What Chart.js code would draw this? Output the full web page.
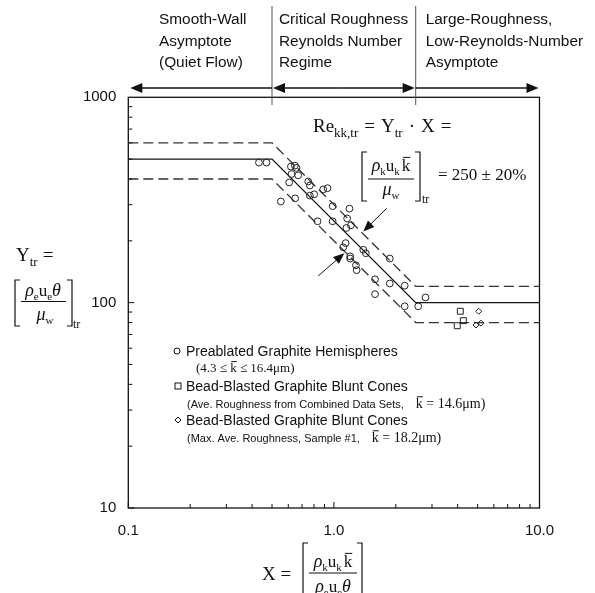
<!DOCTYPE html>
<html>
<head>
<meta charset="utf-8">
<script src="https://cdn.jsdelivr.net/npm/chart.js@4"></script>
<style>
  html, body { margin: 0; padding: 0; background: #fff; }
  canvas { display: block; }
</style>
</head>
<body>
<canvas id="c" width="595" height="593"></canvas>
<script>
// ---------- data ----------
const circleX = [0.432, 0.470, 0.618, 0.646, 0.658, 0.622, 0.670, 0.606, 0.552, 0.648,
                 0.750, 0.764, 0.764, 0.802, 0.887, 0.931, 0.986, 1.19, 0.833, 0.986,
                 1.16, 1.15, 1.21, 1.14, 1.11, 1.20, 1.20, 1.28, 1.29, 1.39,
                 1.43, 1.87, 1.585, 1.87, 2.21, 1.585, 2.21, 2.57, 2.79];
const circleY = [481, 481, 460, 465, 453, 423, 417, 385, 311, 322,
                 389, 372, 332, 337, 356, 361, 295, 287, 249, 249,
                 257, 231, 238, 195, 186, 168, 164, 152, 144, 181,
                 174, 164, 130, 124, 121, 110, 96, 96, 106];
const squareX = [4.12, 4.26, 3.98];
const squareY = [90.8, 81.7, 77.2];
const diamondX = [5.06, 5.19, 4.91];
const diamondY = [90.8, 79.5, 77.8];

// correlation Re_kk,tr = 250 +/- 20% with asymptotes
const bandX   = [0.1, 0.5, 2.5, 10];
const bandMid = [500, 500, 100, 100];
const bandHi  = [600, 600, 120, 120];
const bandLo  = [400, 400, 80, 80];
const regimeBounds = [0.5, 2.5];

const xTickVals = [0.1, 1, 10];
const xTickLabels = ['0.1', '1.0', '10.0'];
const yTickVals = [10, 100, 1000];
const yTickLabels = ['10', '100', '1000'];

// ---------- helpers ----------
const SANS = '"Liberation Sans", Arial, sans-serif';
const SERIF = '"Liberation Serif", "Times New Roman", serif';
const INK = '#111';
const pts = (xs, ys) => xs.map((x, i) => ({x, y: ys[i]}));
const fontOf = (p) => `${p.i ? 'italic ' : ''}${p.s}px ${p.f || SERIF}`;

function runWidth(ctx, parts) {
  let w = 0;
  parts.forEach(p => { ctx.font = fontOf(p); w += ctx.measureText(p.t).width + (p.g || 0); });
  return w;
}
function drawRun(ctx, x, y, parts, align) {
  let cx = align === 'center' ? x - runWidth(ctx, parts) / 2 : x;
  ctx.textAlign = 'left';
  ctx.textBaseline = 'alphabetic';
  parts.forEach(p => {
    ctx.font = fontOf(p);
    const yy = y + (p.d || 0);
    ctx.fillText(p.t, cx, yy);
    const w = ctx.measureText(p.t).width;
    if (p.bar) {
      ctx.beginPath(); ctx.lineWidth = 1;
      ctx.moveTo(cx + 1, yy - p.s * 0.8); ctx.lineTo(cx + w, yy - p.s * 0.8); ctx.stroke();
    }
    cx += w + (p.g || 0);
  });
}
function bracket(ctx, l, r, top, bot) {
  ctx.beginPath(); ctx.lineWidth = 1.2;
  ctx.moveTo(l + 5, top); ctx.lineTo(l, top); ctx.lineTo(l, bot); ctx.lineTo(l + 5, bot);
  ctx.moveTo(r - 5, top); ctx.lineTo(r, top); ctx.lineTo(r, bot); ctx.lineTo(r - 5, bot);
  ctx.stroke();
}
function arrow(ctx, x1, y1, x2, y2, len, half) {
  const a = Math.atan2(y2 - y1, x2 - x1);
  ctx.beginPath();
  ctx.moveTo(x1, y1); ctx.lineTo(x2 - Math.cos(a) * len * 0.8, y2 - Math.sin(a) * len * 0.8); ctx.stroke();
  ctx.beginPath();
  ctx.moveTo(x2, y2);
  ctx.lineTo(x2 - Math.cos(a) * len - Math.sin(a) * half, y2 - Math.sin(a) * len + Math.cos(a) * half);
  ctx.lineTo(x2 - Math.cos(a) * len + Math.sin(a) * half, y2 - Math.sin(a) * len - Math.cos(a) * half);
  ctx.closePath(); ctx.fill();
}

// numerator / denominator pieces
const rhoK_uK_k = [{t:'ρ', s:18, i:1}, {t:'k', s:11, d:4}, {t:'u', s:17}, {t:'k', s:11, d:4, g:2}, {t:'k', s:17, bar:1}];
const rhoE_uE_th = [{t:'ρ', s:18, i:1}, {t:'e', s:11, d:4}, {t:'u', s:17}, {t:'e', s:11, d:4}, {t:'θ', s:18, i:1}];
const mu_w = [{t:'μ', s:18, i:1}, {t:'w', s:11, d:4}];

// ---------- decorations ----------
const decor = {
  id: 'decor',
  afterDraw(chart) {
    const {ctx, chartArea: a, scales: {x, y}} = chart;
    ctx.save();
    ctx.strokeStyle = INK; ctx.fillStyle = INK;

    // frame
    ctx.lineWidth = 1.3;
    ctx.strokeRect(a.left, a.top, a.right - a.left, a.bottom - a.top);

    // inner minor ticks
    ctx.lineWidth = 1;
    ctx.beginPath();
    for (let d = 0.1; d < 10; d *= 10) {
      for (let m = 1; m <= 9; m++) {
        const px = x.getPixelForValue(m * d);
        const len = m === 1 ? 6 : 4;
        ctx.moveTo(px, a.bottom); ctx.lineTo(px, a.bottom - len);
      }
    }
    for (let d = 10; d < 1000; d *= 10) {
      for (let m = 1; m <= 9; m++) {
        const py = y.getPixelForValue(m * d);
        const len = m === 1 ? 6 : 4;
        ctx.moveTo(a.left, py); ctx.lineTo(a.left + len, py);
      }
    }
    ctx.stroke();

    // regime headers
    const b1 = x.getPixelForValue(regimeBounds[0]);
    const b2 = x.getPixelForValue(regimeBounds[1]);
    ctx.strokeStyle = '#555'; ctx.lineWidth = 1;
    ctx.beginPath();
    ctx.moveTo(b1, 6); ctx.lineTo(b1, 105);
    ctx.moveTo(b2, 6); ctx.lineTo(b2, 105);
    ctx.stroke();
    ctx.strokeStyle = INK; ctx.lineWidth = 1.5;
    const ay = 88;
    arrow(ctx, b1, ay, a.left + 2, ay, 12, 5);
    arrow(ctx, (b1 + b2) / 2, ay, b1 + 1, ay, 12, 5);
    arrow(ctx, (b1 + b2) / 2, ay, b2 - 1, ay, 12, 5);
    arrow(ctx, b2, ay, a.right - 1, ay, 12, 5);

    ctx.font = `15.4px ${SANS}`; ctx.textAlign = 'left'; ctx.textBaseline = 'middle';
    const heads = [
      [159, ['Smooth-Wall', 'Asymptote', '(Quiet Flow)']],
      [b1 + 7, ['Critical Roughness', 'Reynolds Number', 'Regime']],
      [b2 + 10, ['Large-Roughness,', 'Low-Reynolds-Number', 'Asymptote']]
    ];
    heads.forEach(([hx, lines]) => lines.forEach((t, i) => ctx.fillText(t, hx, 20 + i * 21.5)));

    // correlation formula
    ctx.lineWidth = 1;
    drawRun(ctx, 313, 132, [{t:'Re', s:19}, {t:'kk,tr', s:13, d:5, g:6}, {t:'=', s:19, g:6},
      {t:'Y', s:19}, {t:'tr', s:13, d:5, g:6}, {t:'·', s:19, g:6}, {t:'X', s:19, g:6}, {t:'=', s:19}]);
    bracket(ctx, 362, 420, 152, 201);
    drawRun(ctx, 391, 171, rhoK_uK_k, 'center');
    ctx.beginPath(); ctx.lineWidth = 1; ctx.moveTo(368, 179); ctx.lineTo(414, 179); ctx.stroke();
    drawRun(ctx, 391, 195, mu_w, 'center');
    drawRun(ctx, 422, 203, [{t:'tr', s:12}]);
    drawRun(ctx, 438, 180, [{t:'= 250 ± 20%', s:17}]);

    // pointers to the band
    ctx.lineWidth = 1;
    arrow(ctx, x.getPixelForValue(1.806), y.getPixelForValue(288), x.getPixelForValue(1.39), y.getPixelForValue(222), 11, 4.5);
    arrow(ctx, x.getPixelForValue(0.839), y.getPixelForValue(135), x.getPixelForValue(1.124), y.getPixelForValue(174), 11, 4.5);

    // y title
    drawRun(ctx, 16, 261, [{t:'Y', s:19}, {t:'tr', s:13, d:5, g:5}, {t:'=', s:19}]);
    bracket(ctx, 15, 72, 280, 326);
    drawRun(ctx, 43, 296, rhoE_uE_th, 'center');
    ctx.beginPath(); ctx.lineWidth = 1; ctx.moveTo(21, 301.5); ctx.lineTo(66, 301.5); ctx.stroke();
    drawRun(ctx, 45, 320, mu_w, 'center');
    drawRun(ctx, 73, 328, [{t:'tr', s:12}]);

    // x title
    drawRun(ctx, 262, 580, [{t:'X =', s:19}]);
    bracket(ctx, 303, 362, 543, 600);
    drawRun(ctx, 333, 567, rhoK_uK_k, 'center');
    ctx.beginPath(); ctx.lineWidth = 1; ctx.moveTo(309, 573); ctx.lineTo(357, 573); ctx.stroke();
    drawRun(ctx, 333, 592, rhoE_uE_th, 'center');

    // legend
    ctx.lineWidth = 1;
    ctx.beginPath(); ctx.arc(177, 351, 3, 0, Math.PI * 2); ctx.stroke();
    ctx.strokeRect(175, 383, 6, 6);
    ctx.beginPath(); ctx.moveTo(178, 417); ctx.lineTo(181, 420); ctx.lineTo(178, 423); ctx.lineTo(175, 420); ctx.closePath(); ctx.stroke();
    drawRun(ctx, 186, 356, [{t:'Preablated Graphite Hemispheres', s:14, f:SANS}]);
    drawRun(ctx, 196, 372, [{t:'(4.3 ≤ ', s:13}, {t:'k', s:13, bar:1}, {t:' ≤ 16.4μm)', s:13}]);
    drawRun(ctx, 186, 391, [{t:'Bead-Blasted Graphite Blunt Cones', s:14, f:SANS}]);
    drawRun(ctx, 187, 408, [{t:'(Ave. Roughness from Combined Data Sets,', s:11, f:SANS, g:12},
      {t:'k', s:14, bar:1}, {t:' = 14.6μm)', s:14}]);
    drawRun(ctx, 186, 425, [{t:'Bead-Blasted Graphite Blunt Cones', s:14, f:SANS}]);
    drawRun(ctx, 187, 442, [{t:'(Max. Ave. Roughness, Sample #1,', s:11, f:SANS, g:12},
      {t:'k', s:14, bar:1}, {t:' = 18.2μm)', s:14}]);

    ctx.restore();
  }
};

// ---------- chart ----------
const lineSet = (ys, dash, color) => ({
  data: pts(bandX, ys), showLine: true, pointRadius: 0, borderColor: color,
  borderWidth: 1.3, borderDash: dash, fill: false, order: 2
});
const markSet = (xs, ys, style, r) => ({
  data: pts(xs, ys), pointStyle: style, pointRadius: r, pointBorderWidth: 1,
  pointBorderColor: '#222', pointBackgroundColor: 'rgba(255,255,255,0)', showLine: false, order: 1
});

new Chart(document.getElementById('c'), {
  type: 'scatter',
  data: {
    datasets: [
      lineSet(bandMid, [], '#111'),
      lineSet(bandHi, [10, 5], '#333'),
      lineSet(bandLo, [10, 5], '#333'),
      markSet(circleX, circleY, 'circle', 3.4),
      markSet(squareX, squareY, 'rect', 4.2),
      markSet(diamondX, diamondY, 'rectRot', 3)
    ]
  },
  options: {
    responsive: false,
    animation: false,
    layout: { padding: { left: 58.3, right: 55.5, top: 97.3, bottom: 55 } },
    plugins: { legend: { display: false }, tooltip: { enabled: false } },
    scales: {
      x: {
        type: 'logarithmic', min: 0.1, max: 10,
        afterBuildTicks: s => { s.ticks = xTickVals.map(v => ({value: v})); },
        afterFit: s => { s.height = 30; },
        ticks: { callback: (v, i) => xTickLabels[i], font: { family: SANS, size: 15 }, color: INK,
                 padding: 14, maxRotation: 0, autoSkip: false },
        grid: { display: false, drawTicks: false },
        border: { display: false }
      },
      y: {
        type: 'logarithmic', min: 10, max: 1000,
        afterBuildTicks: s => { s.ticks = yTickVals.map(v => ({value: v})); },
        afterFit: s => { s.width = 70; },
        ticks: { callback: (v, i) => yTickLabels[i], font: { family: SANS, size: 15 }, color: INK,
                 padding: 12, autoSkip: false },
        grid: { display: false, drawTicks: false },
        border: { display: false }
      }
    }
  },
  plugins: [decor]
});
</script>
</body>
</html>
